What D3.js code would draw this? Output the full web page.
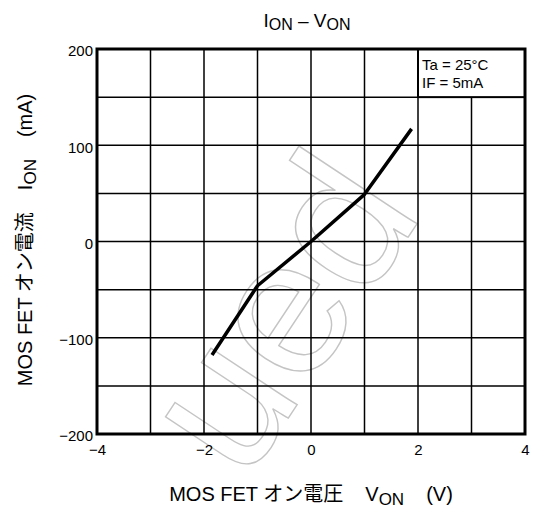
<!DOCTYPE html>
<html><head><meta charset="utf-8">
<script src="https://cdn.jsdelivr.net/npm/d3@7"></script>
<style>
body{margin:0;background:#fff;}
svg{display:block;font-family:"Liberation Sans",Arial,sans-serif;}
</style></head>
<body>
<svg id="c" width="533" height="512"></svg>
<script>
// Data
const vOn = [-1.85, -1.0, 0, 1.0, 1.88];        // V
const iOn = [-118, -46, 0, 49, 117];            // mA
const xTicks = [-4, -2, 0, 2, 4];
const yTicks = [-200, -100, 0, 100, 200];
const xGrid = [-4, -3, -2, -1, 0, 1, 2, 3, 4];
const yGrid = [-200, -150, -100, -50, 0, 50, 100, 150, 200];
const legendLines = ["Ta = 25°C", "IF = 5mA"];

const svg = d3.select("#c");
const x = d3.scaleLinear().domain([-4, 4]).range([97, 525]);
const y = d3.scaleLinear().domain([-200, 200]).range([434, 49]);

// watermark (visible part)
svg.append("text")
  .attr("transform", "translate(424,213) rotate(-56.5)")
  .attr("text-anchor", "end")
  .attr("font-size", 195)
  .attr("fill", "none")
  .attr("stroke", "#c4c4c4")
  .attr("stroke-width", 1.4)
  .text("ued");

// grid
const g = svg.append("g");
g.selectAll(".vx").data(xGrid).join("line")
  .attr("x1", d => x(d)).attr("x2", d => x(d))
  .attr("y1", y(-200)).attr("y2", y(200))
  .attr("stroke", "#000").attr("stroke-width", 1.5);
g.selectAll(".hy").data(yGrid).join("line")
  .attr("x1", x(-4)).attr("x2", x(4))
  .attr("y1", d => y(d)).attr("y2", d => y(d))
  .attr("stroke", "#000").attr("stroke-width", 1.5);

// curve
svg.append("path")
  .datum(vOn.map((v, i) => [v, iOn[i]]))
  .attr("fill", "none").attr("stroke", "#000").attr("stroke-width", 3.5)
  .attr("stroke-linejoin", "round")
  .attr("d", d3.line().x(d => x(d[0])).y(d => y(d[1])));

// legend box
svg.append("rect")
  .attr("x", x(2)).attr("y", y(200))
  .attr("width", x(4) - x(2)).attr("height", y(150) - y(200))
  .attr("fill", "#fff").attr("stroke", "#000").attr("stroke-width", 2);
svg.selectAll(".leg").data(legendLines).join("text")
  .attr("x", x(2) + 4).attr("y", (d, i) => 70 + i * 18)
  .attr("font-size", 15).text(d => d);

// frame
svg.append("rect")
  .attr("x", x(-4)).attr("y", y(200))
  .attr("width", x(4) - x(-4)).attr("height", y(-200) - y(200))
  .attr("fill", "none").attr("stroke", "#000").attr("stroke-width", 3);

// axes (labels only)
const ax = svg.append("g").attr("transform", `translate(0,${y(-200)})`)
  .call(d3.axisBottom(x).tickValues(xTicks).tickSize(0).tickPadding(10));
const ay = svg.append("g").attr("transform", `translate(${x(-4)},0)`)
  .call(d3.axisLeft(y).tickValues(yTicks).tickSize(0).tickPadding(4));
[ax, ay].forEach(a => {
  a.select(".domain").remove();
  a.selectAll("text").attr("font-size", 15).attr("fill", "#000")
    .attr("font-family", "Liberation Sans, Arial, sans-serif");
});
ay.selectAll("text").attr("dy", "0.45em");

// title
const t = svg.append("text").attr("x", 307).attr("y", 27)
  .attr("text-anchor", "middle").attr("font-size", 19);
t.append("tspan").text("I");
t.append("tspan").attr("font-size", 16).attr("dy", 3).text("ON");
t.append("tspan").attr("dy", -3).text(" – V");
t.append("tspan").attr("font-size", 16).attr("dy", 3).text("ON");

// x title
const xt = svg.append("text").attr("x", 311).attr("y", 501)
  .attr("text-anchor", "middle").attr("font-size", 20)
  .attr("font-family", "Liberation Sans, 'Noto Sans CJK JP', sans-serif");
xt.append("tspan").text("MOS FET オン電圧");
xt.append("tspan").attr("dx", 22).text("V");
xt.append("tspan").attr("font-size", 17).attr("dy", 4).text("ON");
xt.append("tspan").attr("dy", -4).attr("dx", 22).text("(V)");

// y title
const yt = svg.append("text").attr("transform", "translate(32,240) rotate(-90)")
  .attr("text-anchor", "middle").attr("font-size", 20)
  .attr("font-family", "Liberation Sans, 'Noto Sans CJK JP', sans-serif");
yt.append("tspan").text("MOS FET オン電流");
yt.append("tspan").attr("dx", 22).text("I");
yt.append("tspan").attr("font-size", 17).attr("dy", 4).text("ON");
yt.append("tspan").attr("dy", -4).attr("dx", 22).text("(mA)");
</script>
</body></html>
